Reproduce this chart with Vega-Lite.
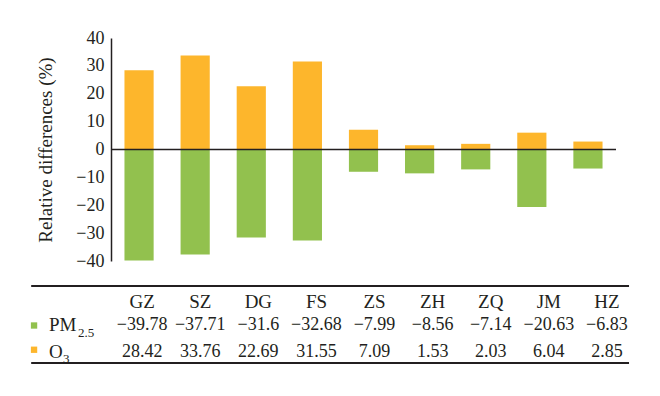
{
  "$schema": "https://vega.github.io/schema/vega-lite/v6.json",
  "background": "white",
  "padding": {"left": 30, "top": 29, "right": 5, "bottom": 5},
  "spacing": 15,
  "config": {
    "view": {"stroke": null},
    "font": "Liberation Serif",
    "text": {"font": "Liberation Serif"},
    "axis": {"labelFont": "Liberation Serif", "titleFont": "Liberation Serif", "labelOverlap": false}
  },
  "datasets": {
    "rows": [
      {"city": "GZ", "series": "PM2.5", "value": -39.78},
      {"city": "SZ", "series": "PM2.5", "value": -37.71},
      {"city": "DG", "series": "PM2.5", "value": -31.6},
      {"city": "FS", "series": "PM2.5", "value": -32.68},
      {"city": "ZS", "series": "PM2.5", "value": -7.99},
      {"city": "ZH", "series": "PM2.5", "value": -8.56},
      {"city": "ZQ", "series": "PM2.5", "value": -7.14},
      {"city": "JM", "series": "PM2.5", "value": -20.63},
      {"city": "HZ", "series": "PM2.5", "value": -6.83},
      {"city": "GZ", "series": "O3", "value": 28.42},
      {"city": "SZ", "series": "O3", "value": 33.76},
      {"city": "DG", "series": "O3", "value": 22.69},
      {"city": "FS", "series": "O3", "value": 31.55},
      {"city": "ZS", "series": "O3", "value": 7.09},
      {"city": "ZH", "series": "O3", "value": 1.53},
      {"city": "ZQ", "series": "O3", "value": 2.03},
      {"city": "JM", "series": "O3", "value": 6.04},
      {"city": "HZ", "series": "O3", "value": 2.85}
    ],
    "labels": [
      {"series": "PM2.5", "main": "PM", "sub": "2.5"},
      {"series": "O3", "main": "O", "sub": "3"}
    ],
    "lines": [{"r": "top"}, {"r": "bot"}]
  },
  "vconcat": [
    {
      "width": 505,
      "height": 223,
      "data": {"name": "rows"},
      "layer": [
        {
          "mark": {"type": "bar"},
          "encoding": {
            "x": {
              "field": "city", "type": "nominal",
              "sort": ["GZ", "SZ", "DG", "FS", "ZS", "ZH", "ZQ", "JM", "HZ"],
              "scale": {"paddingInner": 0.48, "paddingOuter": 0.24},
              "axis": null
            },
            "y": {
              "field": "value", "type": "quantitative", "stack": null,
              "scale": {"domain": [-40, 40], "nice": false},
              "axis": {
                "values": [-40, -30, -20, -10, 0, 10, 20, 30, 40],
                "labelOverlap": false,
                "ticks": false, "grid": false,
                "domainColor": "#231F20", "domainWidth": 1.5,
                "labelFontSize": 18, "labelColor": "#231F20", "labelPadding": 7,
                "title": "Relative differences (%)",
                "titleFontSize": 19, "titleFontWeight": "normal", "titleColor": "#231F20",
                "titlePadding": 20
              }
            },
            "color": {
              "field": "series", "type": "nominal",
              "scale": {"domain": ["PM2.5", "O3"], "range": ["#92C14E", "#FDB62C"]},
              "legend": null
            }
          }
        },
        {
          "data": {"values": [{"z": 0}]},
          "mark": {"type": "rule", "color": "#231F20", "strokeWidth": 1.5},
          "encoding": {
            "y": {
              "field": "z", "type": "quantitative",
              "axis": {
                "values": [-40, -30, -20, -10, 0, 10, 20, 30, 40],
                "labelOverlap": false,
                "ticks": false, "grid": false,
                "domainColor": "#231F20", "domainWidth": 1.5,
                "labelFontSize": 18, "labelColor": "#231F20", "labelPadding": 7,
                "title": "Relative differences (%)",
                "titleFontSize": 19, "titleFontWeight": "normal", "titleColor": "#231F20",
                "titlePadding": 20
              }
            }
          }
        }
      ]
    },
    {
      "width": 518,
      "height": 77,
      "encoding": {
        "x": {
          "type": "nominal",
          "scale": {
            "type": "band",
            "domain": ["LBL", "GZ", "SZ", "DG", "FS", "ZS", "ZH", "ZQ", "JM", "HZ"],
            "range": [-56, 525], "paddingInner": 0, "paddingOuter": 0
          },
          "axis": null
        },
        "y": {
          "type": "nominal",
          "scale": {"type": "point", "domain": ["top", "hdr", "PM2.5", "O3", "bot"], "padding": 0},
          "axis": null
        }
      },
      "layer": [
        {
          "data": {"name": "lines"},
          "mark": {"type": "rule", "color": "#231F20", "strokeWidth": 2},
          "encoding": {
            "x": {"datum": "LBL", "bandPosition": -0.41},
            "x2": {"datum": "HZ", "bandPosition": 0.88},
            "y": {"field": "r"}
          }
        },
        {
          "data": {"name": "rows"},
          "transform": [{"filter": "datum.series == 'O3'"}],
          "mark": {"type": "text", "fontSize": 19, "color": "#231F20", "baseline": "middle", "yOffset": -3.5},
          "encoding": {
            "x": {"field": "city"},
            "y": {"datum": "hdr"},
            "text": {"field": "city"}
          }
        },
        {
          "data": {"name": "rows"},
          "transform": [{"filter": "datum.series == 'PM2.5'"}],
          "mark": {"type": "text", "fontSize": 18, "color": "#231F20", "baseline": "middle", "yOffset": 0},
          "encoding": {
            "x": {"field": "city"},
            "y": {"field": "series"},
            "text": {"field": "value", "type": "quantitative", "format": ".2~f"}
          }
        },
        {
          "data": {"name": "rows"},
          "transform": [{"filter": "datum.series == 'O3'"}],
          "mark": {"type": "text", "fontSize": 18, "color": "#231F20", "baseline": "middle", "yOffset": 8.5},
          "encoding": {
            "x": {"field": "city"},
            "y": {"field": "series"},
            "text": {"field": "value", "type": "quantitative", "format": ".2~f"}
          }
        },
        {
          "data": {"name": "labels"},
          "transform": [{"filter": "datum.series == 'PM2.5'"}],
          "mark": {"type": "text", "fontSize": 19, "color": "#231F20", "baseline": "middle", "align": "left", "xOffset": -35, "yOffset": 0},
          "encoding": {
            "x": {"datum": "LBL"},
            "y": {"field": "series"},
            "text": {"field": "main"}
          }
        },
        {
          "data": {"name": "labels"},
          "transform": [{"filter": "datum.series == 'PM2.5'"}],
          "mark": {"type": "text", "fontSize": 13, "color": "#231F20", "baseline": "middle", "align": "left", "xOffset": -6, "yOffset": 8},
          "encoding": {
            "x": {"datum": "LBL"},
            "y": {"field": "series"},
            "text": {"field": "sub"}
          }
        },
        {
          "data": {"name": "labels"},
          "transform": [{"filter": "datum.series == 'O3'"}],
          "mark": {"type": "text", "fontSize": 19, "color": "#231F20", "baseline": "middle", "align": "left", "xOffset": -35, "yOffset": 8.5},
          "encoding": {
            "x": {"datum": "LBL"},
            "y": {"field": "series"},
            "text": {"field": "main"}
          }
        },
        {
          "data": {"name": "labels"},
          "transform": [{"filter": "datum.series == 'O3'"}],
          "mark": {"type": "text", "fontSize": 13, "color": "#231F20", "baseline": "middle", "align": "left", "xOffset": -21, "yOffset": 15},
          "encoding": {
            "x": {"datum": "LBL"},
            "y": {"field": "series"},
            "text": {"field": "sub"}
          }
        },
        {
          "data": {"name": "labels"},
          "transform": [{"filter": "datum.series == 'PM2.5'"}],
          "mark": {"type": "point", "shape": "square", "filled": true, "size": 40, "opacity": 1, "xOffset": -50, "yOffset": 1, "color": "#92C14E"},
          "encoding": {
            "x": {"datum": "LBL"},
            "y": {"field": "series"}
          }
        },
        {
          "data": {"name": "labels"},
          "transform": [{"filter": "datum.series == 'O3'"}],
          "mark": {"type": "point", "shape": "square", "filled": true, "size": 40, "opacity": 1, "xOffset": -50, "yOffset": 6, "color": "#FDB62C"},
          "encoding": {
            "x": {"datum": "LBL"},
            "y": {"field": "series"}
          }
        }
      ]
    }
  ]
}
